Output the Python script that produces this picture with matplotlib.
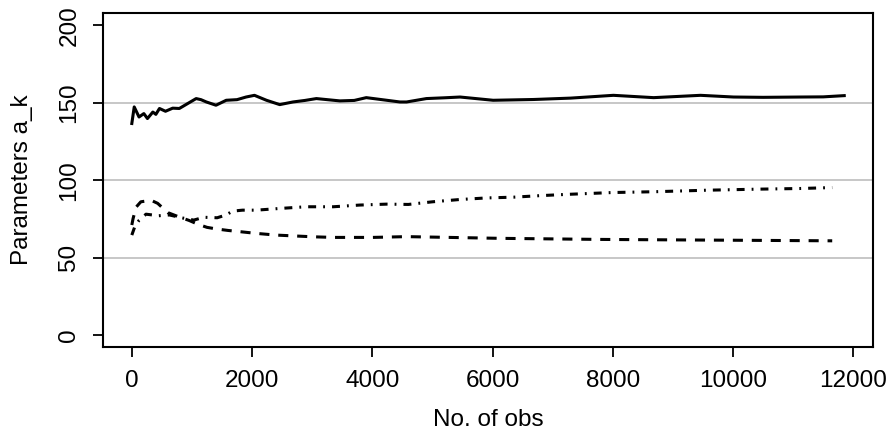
import matplotlib
matplotlib.use("Agg")
import matplotlib.pyplot as plt

# solid line (a_1)
x_solid = [0, 40, 120, 200, 260, 350, 400, 460, 560, 680, 790, 930, 1070, 1150,
           1240, 1400, 1570, 1750, 1900, 2040, 2240, 2460, 2680, 2880, 3070, 3250,
           3460, 3700, 3900, 4240, 4460, 4570, 4900, 5200, 5460, 6010, 6680, 7300,
           8010, 8680, 9460, 10010, 10500, 11120, 11500, 11850]
y_solid = [136.6, 147.3, 140.8, 143.0, 139.8, 144.0, 142.5, 146.3, 144.5, 146.5,
           146.3, 149.5, 152.7, 152.0, 150.5, 148.4, 151.6, 152.0, 153.7, 154.8,
           151.6, 148.8, 150.5, 151.5, 152.7, 152.0, 151.2, 151.5, 153.3, 151.6,
           150.5, 150.5, 152.7, 153.2, 153.7, 151.6, 152.1, 153.0, 154.8, 153.3,
           154.8, 153.7, 153.5, 153.7, 153.8, 154.6]

# dashed line (a_2)
x_dash = [0, 20, 70, 150, 320, 430, 600, 800, 950, 1100, 1250, 1400, 1600, 1800,
          2070, 2400, 3010, 3350, 4010, 4570, 5000, 6120, 7790, 9460, 11650]
y_dash = [71.0, 75.0, 82.5, 86.0, 87.0, 85.0, 79.0, 76.0, 74.0, 71.5, 69.5, 68.5,
          67.5, 66.7, 65.6, 64.5, 63.4, 63.0, 63.0, 63.5, 63.2, 62.4, 61.7, 61.3,
          60.8]

# dash-dot line (a_3)
x_dd = [0, 50, 120, 236, 450, 625, 850, 1030, 1200, 1420, 1560, 1680, 1840, 2070,
        2460, 2900, 3350, 3790, 4240, 4600, 5000, 5460, 5900, 6350, 6800, 7240,
        8000, 8680, 9570, 10460, 11120, 11650]
y_dd = [64.5, 70.0, 74.0, 78.0, 77.0, 77.5, 75.5, 74.2, 76.0, 75.7, 77.4, 80.0,
        80.6, 80.6, 81.7, 82.8, 82.8, 83.9, 84.5, 84.3, 86.0, 87.5, 88.5, 89.0,
        90.0, 90.8, 92.0, 92.5, 93.5, 94.2, 94.6, 95.2]

x_ticks = [0, 2000, 4000, 6000, 8000, 10000, 12000]
y_ticks = [0, 50, 100, 150, 200]
grid_levels = [50, 100, 150]

plt.rcParams['font.family'] = ['Liberation Sans', 'DejaVu Sans']

fig = plt.figure(figsize=(8.93, 4.46), dpi=100)
ax = fig.add_axes([0.1157, 0.2213, 0.8616, 0.7496])

for h in grid_levels:
    ax.axhline(h, color='#bebebe', lw=1.2, zorder=1)

ax.plot(x_solid, y_solid, color='black', lw=2.2, zorder=3)
l2, = ax.plot(x_dash, y_dash, color='black', lw=2.2, zorder=3)
l2.set_dashes([3.3, 2.9])
l3, = ax.plot(x_dd, y_dd, color='black', lw=2.2, zorder=3)
l3.set_dashes([2.6, 2.3, 0.6, 2.3])

ax.set_xlim(-474, 12324)
ax.set_ylim(-8, 208)
ax.set_xticks(x_ticks)
ax.set_yticks(y_ticks)
ax.set_yticklabels([str(v) for v in y_ticks], rotation=90, va='center')

for s in ax.spines.values():
    s.set_linewidth(1.5)
ax.tick_params(direction='out', length=7.5, width=1.3, labelsize=17.5, pad=9)

ax.set_xlabel('No. of obs', fontsize=17.5, va='center')
ax.xaxis.set_label_coords(0.5, -0.2175)
ax.set_ylabel('Parameters a_k', fontsize=17.5, va='center')
ax.yaxis.set_label_coords(-0.1057, 0.5)

fig.savefig('out.png', dpi=100)
